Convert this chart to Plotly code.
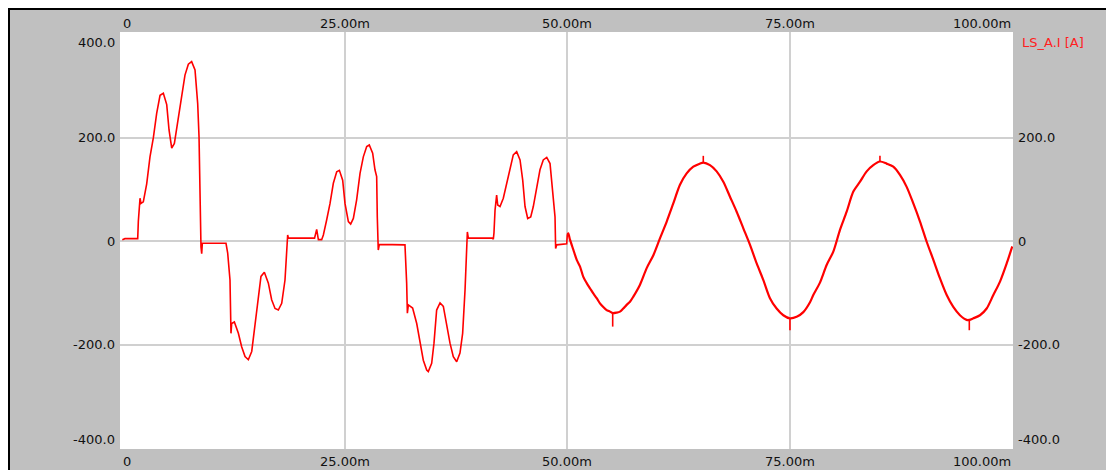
import plotly.graph_objects as go

# ---- data (time in ms, current in A) ----
t_transient = [0.00, 0.30, 1.73, 1.80, 1.99, 2.10, 2.36, 2.74, 3.11, 3.49, 3.86, 4.24, 4.61, 4.99, 5.25,
               5.55, 5.85, 6.30, 6.67, 7.04, 7.42, 7.79, 8.17, 8.47, 8.62, 8.73, 8.84, 8.92, 8.99,
               11.65, 11.84, 12.10, 12.21, 12.29, 12.59, 13.04, 13.41, 13.79, 14.16, 14.54, 14.91,
               15.28, 15.58, 15.96, 16.41, 16.78, 17.16, 17.53, 17.91, 18.28, 18.47, 18.58, 18.66,
               21.60, 21.84, 22.03, 22.40, 22.59, 22.96, 23.34, 23.71, 24.09, 24.39, 24.76, 25.02,
               25.40, 25.66, 25.96, 26.33, 26.71, 27.08, 27.46, 27.75, 28.13, 28.39, 28.58, 28.65,
               28.76, 28.88, 31.57, 31.76, 31.95, 32.03, 32.14, 32.62, 33.08, 33.45, 33.82, 34.20,
               34.38, 34.76, 35.02, 35.32, 35.70, 36.07, 36.45, 36.82, 37.19, 37.57, 37.94, 38.24,
               38.51, 38.69, 38.77, 38.88, 41.57, 41.69, 41.76, 41.88, 42.06, 42.18, 42.44, 42.81,
               43.19, 43.56, 43.93, 44.31, 44.69, 44.99, 45.25, 45.55, 45.89, 46.18, 46.56, 46.93,
               47.30, 47.69, 48.06, 48.36, 48.62, 48.69, 48.81, 49.93, 50.00]
i_transient = [3, 5, 5, 38, 83, 73, 76, 111, 163, 200, 247, 282, 286, 264, 215,
               180, 189, 240, 286, 321, 342, 347, 331, 266, 202, 47, -11, -24, -4,
               -4, -23, -75, -178, -159, -156, -178, -204, -223, -229, -213, -159,
               -107, -68, -60, -81, -113, -130, -133, -120, -75, -30, 12, 6,
               6, 23, 3, 3, 12, 41, 73, 112, 134, 137, 118, 73,
               38, 33, 44, 80, 131, 163, 183, 186, 170, 138, 125, 47,
               -17, -6, -6, -7, -81, -139, -123, -129, -159, -197, -230, -249,
               -252, -236, -197, -133, -119, -126, -165, -197, -223, -233, -216, -178,
               -94, -7, 18, 6, 6, 4, 16, 60, 89, 70, 67, 83,
               112, 144, 167, 173, 157, 118, 67, 44, 47, 67, 105, 138,
               157, 162, 150, 99, 47, -14, -7, -5, 12]

t_sine = [50.00, 50.11, 50.30, 50.67, 51.06, 51.43, 51.80, 52.18, 52.55, 52.92, 53.30, 53.67, 54.04,
          54.42, 54.80, 55.10, 55.55, 55.92, 56.29, 56.67, 57.04, 57.42, 58.17, 58.92,
          59.67, 60.42, 61.17, 61.91, 62.66, 63.41, 64.16, 64.91, 65.28, 66.03, 66.78,
          67.53, 68.28, 69.03, 69.78, 70.53, 71.28, 72.03, 72.77, 73.52, 74.27, 75.02,
          75.77, 76.52, 77.27, 77.64, 78.39, 79.14, 79.89, 80.64, 81.39, 82.14, 82.89, 83.64, 84.38,
          85.13, 85.88, 86.63, 87.38, 88.13, 88.88, 89.63, 90.38, 91.13, 91.88, 92.63,
          93.37, 94.12, 94.87, 95.17, 95.62, 96.37, 97.12, 97.87, 98.62, 99.37, 100.00]
i_sine = [12, 15, 3, -16, -36, -49, -69, -81, -91, -101, -110, -120, -127,
          -133, -136, -139, -138, -136, -130, -123, -117, -107, -84, -52,
          -27, 6, 38, 73, 109, 131, 144, 150, 152, 147, 135,
          115, 86, 57, 25, -7, -43, -75, -110, -130, -143, -149,
          -146, -137, -118, -104, -80, -46, -20, 22, 57, 96, 115, 135, 147,
          154, 150, 144, 128, 105, 73, 38, -1, -36, -72, -104,
          -127, -143, -152, -152, -149, -143, -130, -104, -78, -43, -10]

# short glitches visible on the sine section
spike_t = [55.10, 65.28, 75.02, 85.13, 95.17]
spike_from = [-139, 152, -149, 154, -152]
spike_to = [-165, 165, -172, 165, -172]

x_ticks = [0, 25, 50, 75, 100]
x_tick_labels = ["0", "25.00m", "50.00m", "75.00m", "100.00m"]
y_ticks = [400, 200, 0, -200, -400]
y_tick_labels = ["400.0", "200.0", "0", "-200.0", "-400.0"]
y_right_ticks = [200, 0, -200, -400]
y_right_labels = ["200.0", "0", "-200.0", "-400.0"]
channel_name = "LS_A.I [A]"

# ---- figure (page body margin of 8px places the figure at (8, 8)) ----
OFF = 8
W, H = 1114 - OFF, 470 - OFF
L, R, T, B = 120 - OFF, 1013 - OFF, 32 - OFF, 449 - OFF
FONT = dict(family="DejaVu Sans", size=13, color="#111111")

fig = go.Figure()
fig.add_trace(go.Scatter(x=t_transient, y=i_transient, mode="lines",
                         line=dict(color="#ff0000", width=1.6), showlegend=False))
fig.add_trace(go.Scatter(x=t_sine, y=i_sine, mode="lines",
                         line=dict(color="#ff0000", width=2.2, shape="spline", smoothing=0.8),
                         showlegend=False))
sx, sy = [], []
for t, a, b in zip(spike_t, spike_from, spike_to):
    sx += [t, t, None]
    sy += [a, b, None]
fig.add_trace(go.Scatter(x=sx, y=sy, mode="lines", connectgaps=False,
                         line=dict(color="#ff0000", width=1.6), showlegend=False))

# helpers converting reference-screenshot pixels to paper coords
def px2paper_x(px):
    return (px - OFF - L) / (R - L)

def px2paper_y(py):
    return (B - (py - OFF)) / (B - T)

ann = []
for v, lab in zip(x_ticks, x_tick_labels):
    anchor = "left" if v == x_ticks[0] else ("right" if v == x_ticks[-1] else "center")
    for ypix in (24, 461):
        ann.append(dict(x=v, xref="x", y=px2paper_y(ypix), yref="paper", text=lab,
                        showarrow=False, xanchor=anchor, yanchor="middle", font=FONT,
                        borderpad=0))
for v, lab in zip(y_ticks, y_tick_labels):
    ya = "top" if v == max(y_ticks) else ("bottom" if v == min(y_ticks) else "middle")
    ann.append(dict(x=px2paper_x(116), xref="paper", y=v, yref="y", text=lab,
                    showarrow=False, xanchor="right", yanchor=ya, font=FONT, borderpad=0))
for v, lab in zip(y_right_ticks, y_right_labels):
    ya = "bottom" if v == min(y_right_ticks) else "middle"
    ann.append(dict(x=px2paper_x(1016.5), xref="paper", y=v, yref="y", text=lab,
                    showarrow=False, xanchor="left", yanchor=ya, font=FONT, borderpad=0))
ann.append(dict(x=px2paper_x(1020.5), xref="paper", y=px2paper_y(42.5), yref="paper",
                text=channel_name, showarrow=False, xanchor="left", yanchor="middle",
                font=dict(family="DejaVu Sans", size=13, color="#ff2020"), borderpad=0))

shapes = [
    # black top and left border lines of the panel
    dict(type="line", xref="paper", yref="paper", x0=px2paper_x(8), x1=px2paper_x(1130),
         y0=px2paper_y(9), y1=px2paper_y(9), line=dict(color="#000000", width=2)),
    dict(type="line", xref="paper", yref="paper", x0=px2paper_x(9), x1=px2paper_x(9),
         y0=px2paper_y(8), y1=px2paper_y(480), line=dict(color="#000000", width=2)),
]

fig.update_layout(
    width=W, height=H,
    margin=dict(l=L, r=W - R, t=T, b=H - B, pad=0),
    paper_bgcolor="#c0c0c0", plot_bgcolor="#ffffff",
    font=FONT,
    showlegend=False,
    annotations=ann,
    shapes=shapes,
    xaxis=dict(range=[-0.26, 100.08], tickvals=x_ticks[1:-1], showticklabels=False,
               showgrid=True, gridcolor="#d0d0d0", gridwidth=2, zeroline=False,
               showline=False, ticks="", fixedrange=True),
    yaxis=dict(range=[-401.5, 404.3], tickvals=y_ticks[1:-1], showticklabels=False,
               showgrid=True, gridcolor="#d0d0d0", gridwidth=2, zeroline=False,
               showline=False, ticks="", fixedrange=True),
)

fig.write_html("out.html", config={"displayModeBar": False})
